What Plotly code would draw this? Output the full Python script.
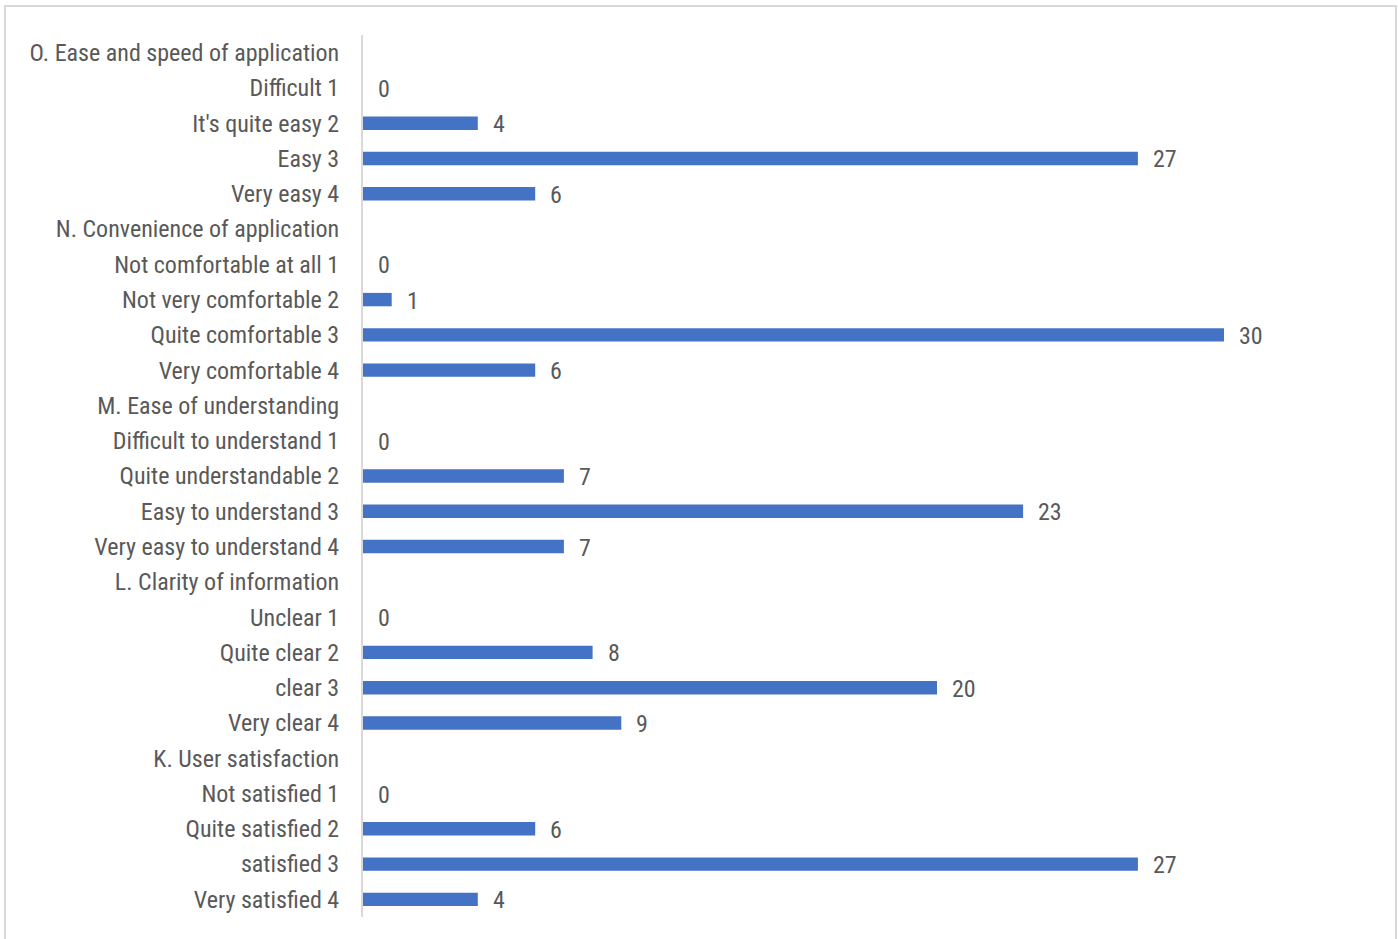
import plotly.graph_objects as go

categories = [
    "O. Ease and speed of application", "Difficult 1", "It's quite easy 2", "Easy 3", "Very easy 4",
    "N. Convenience of application", "Not comfortable at all 1", "Not very comfortable 2", "Quite comfortable 3", "Very comfortable 4",
    "M. Ease of understanding", "Difficult to understand 1", "Quite understandable 2", "Easy to understand 3", "Very easy to understand 4",
    "L. Clarity of information", "Unclear 1", "Quite clear 2", "clear 3", "Very clear 4",
    "K. User satisfaction", "Not satisfied 1", "Quite satisfied 2", "satisfied 3", "Very satisfied 4",
]
values = [
    None, 0, 4, 27, 6,
    None, 0, 1, 30, 6,
    None, 0, 7, 23, 7,
    None, 0, 8, 20, 9,
    None, 0, 6, 27, 4,
]

FONT = "Liberation Sans Narrow, Roboto Condensed, Arial Narrow, Roboto, sans-serif"
GRAY = "#595959"

fig = go.Figure()
fig.add_trace(go.Bar(
    y=categories, x=values, orientation="h",
    marker=dict(color="#4472C4", line=dict(width=0)),
    hoverinfo="x+y",
))

annotations = []
for c, v in zip(categories, values):
    if v is None:
        continue
    annotations.append(dict(
        x=v, y=c, xref="x", yref="y", text=str(v), showarrow=False,
        xanchor="left", xshift=13, yshift=-1, font=dict(family=FONT, size=24, color=GRAY),
    ))

W, H = 1398, 939
L, R, T, B = 363, 18, 35, 22
pw, ph = W - L - R, H - T - B
def px(x): return (x - L) / pw
def py(y): return (H - B - y) / ph

fig.update_layout(
    width=W, height=H,
    margin=dict(l=L, r=R, t=T, b=B, pad=0),
    paper_bgcolor="white", plot_bgcolor="white",
    showlegend=False,
    bargap=0.62,
    font=dict(family=FONT, size=24, color=GRAY),
    annotations=annotations,
    xaxis=dict(range=[0, pw / 28.7], visible=False, showgrid=False, zeroline=False),
    yaxis=dict(
        autorange="reversed", showgrid=False, zeroline=False,
        showline=True, linecolor="#d9d9d9", linewidth=2,
        ticks="", ticklabelstandoff=17,
        tickfont=dict(family=FONT, size=24, color=GRAY),
        categoryorder="array", categoryarray=categories,
    ),
    shapes=[dict(
        type="rect", xref="paper", yref="paper",
        x0=px(5), x1=px(1396), y0=py(960), y1=py(6),
        line=dict(color="#d9d9d9", width=2), fillcolor="rgba(0,0,0,0)", layer="below",
    )],
)

fig.write_html("out.html")
